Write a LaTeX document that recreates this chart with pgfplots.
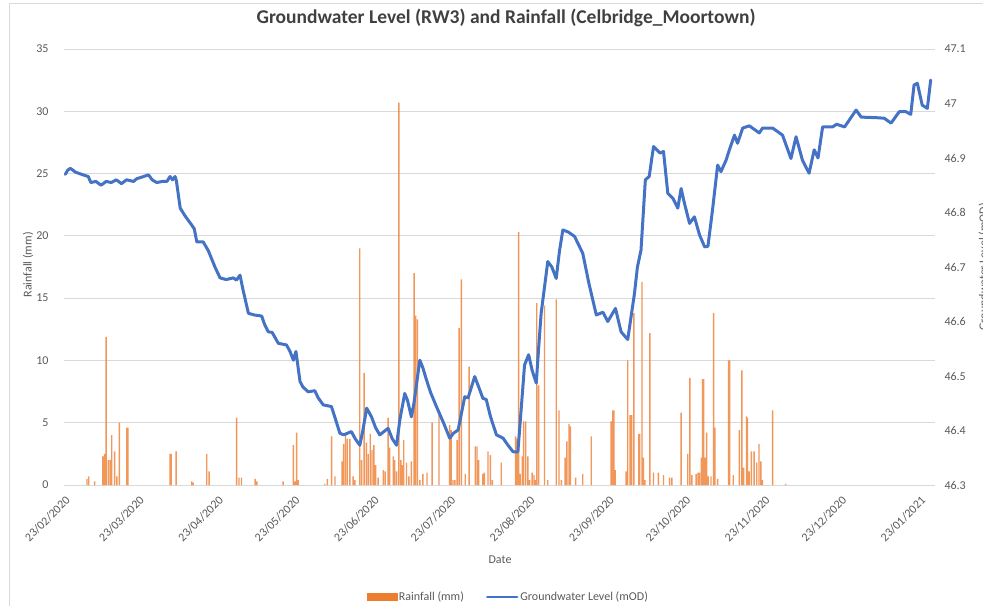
\documentclass[border=0pt]{standalone}
\usepackage{pgfplots}
\usepackage{pgfplotstable}
\pgfplotsset{compat=1.18}
\usepackage{fontspec}
\setmainfont{Carlito}
\definecolor{rainc}{HTML}{ED7D31}
\definecolor{gwc}{HTML}{4472C4}
\definecolor{gridc}{HTML}{D9D9D9}
\definecolor{txtc}{HTML}{595959}
\definecolor{titc}{HTML}{404040}

\pgfplotstableread{
day mm
8.5 0.5
9.2 0.7
11.5 0.3
14.7 2.3
15.4 2.5
16.0 11.9
16.9 2.0
17.6 2.0
18.2 4.0
19.3 2.7
20.2 0.7
21.2 5.0
24.1 4.6
24.5 4.6
41.0 2.5
41.5 2.5
43.4 2.7
49.5 0.3
50.1 0.2
55.4 2.5
56.3 1.1
67.1 5.4
68.0 0.6
69.0 0.6
74.3 0.5
75.0 0.3
85.3 0.3
89.3 3.2
89.9 0.3
90.6 4.2
91.2 0.4
101.6 0.1
102.6 0.5
104.3 3.9
105.6 0.7
108.4 1.9
109.0 3.3
109.7 4.1
110.4 3.7
111.4 3.7
112.7 0.7
113.4 0.4
115.3 19.0
116.0 2.0
117.0 9.0
117.9 3.4
118.6 2.5
119.4 4.1
120.1 2.8
120.8 3.2
121.5 1.6
122.5 0.6
124.5 1.2
125.2 1.1
126.4 5.4
127.0 3.0
128.4 2.3
129.0 2.0
129.7 1.1
130.6 30.7
131.4 2.0
131.9 1.6
132.5 3.6
133.6 1.8
134.5 0.7
135.5 1.9
136.6 17.0
137.2 13.6
137.9 13.3
138.8 0.4
140.0 0.9
141.6 1.0
143.6 5.0
146.3 5.6
150.5 4.8
151.1 4.4
151.8 0.4
152.5 0.4
153.4 3.6
154.2 12.6
155.1 16.5
156.6 0.9
158.1 9.5
160.5 3.1
161.2 3.1
161.8 2.0
163.5 0.9
164.1 1.0
165.5 2.7
166.4 2.4
167.2 0.4
170.7 1.8
176.3 3.9
176.8 3.7
177.5 20.3
178.1 0.9
178.9 2.3
179.4 5.1
180.2 5.1
181.1 2.3
181.8 0.4
182.8 1.0
183.5 0.8
184.1 0.4
184.6 14.6
185.3 8.0
187.6 14.4
188.9 0.4
192.2 14.9
193.3 6.0
194.2 0.4
195.7 2.2
196.4 3.5
197.2 4.9
197.8 4.7
199.8 0.6
202.6 0.9
205.9 3.9
213.7 5.1
214.4 6.0
214.8 6.0
215.3 1.2
219.6 1.1
220.2 10.0
221.1 5.6
221.7 5.6
222.6 13.8
224.5 4.1
224.9 4.1
225.8 16.3
226.3 2.2
226.9 0.4
228.9 12.2
230.3 1.0
232.2 1.0
234.2 0.8
236.6 0.6
237.5 0.6
241.1 5.8
243.7 2.5
244.5 8.6
245.3 0.8
247.0 0.9
247.7 1.0
248.3 1.0
249.0 2.2
249.5 8.5
249.9 8.5
250.4 2.2
251.1 4.2
251.7 0.7
252.8 0.7
253.8 13.8
254.3 4.6
255.4 0.5
259.7 10.0
260.1 10.0
261.5 0.8
263.9 4.4
264.9 9.2
265.6 1.4
266.7 5.5
267.1 5.4
267.7 1.1
268.6 2.7
269.7 2.7
270.7 1.8
271.6 3.3
272.3 1.9
272.9 0.4
276.9 6.0
282.0 0.1
}\raintable

\pgfplotstableread{
day gw
0 46.870
1 46.878
2 46.881
4 46.874
7 46.869
9 46.866
10 46.855
12 46.857
14 46.850
16 46.857
18 46.855
20 46.860
22 46.853
24 46.860
26.7 46.857
28 46.862
30 46.865
32.6 46.869
34 46.860
35.8 46.855
38 46.857
39.8 46.857
41 46.866
42 46.860
43 46.866
43.5 46.858
45 46.808
47 46.793
49.5 46.777
50.5 46.770
51.5 46.746
54 46.746
56 46.730
58.6 46.700
60.6 46.680
63 46.677
65.8 46.680
67 46.676
68.4 46.685
69.5 46.660
71.7 46.615
74 46.612
76.9 46.610
78 46.595
79.5 46.581
81 46.580
83.4 46.560
86.6 46.557
88 46.545
89.3 46.529
90.3 46.545
91.9 46.490
93 46.480
95.1 46.471
97.7 46.473
99 46.460
101 46.447
104.2 46.444
105.5 46.425
107.5 46.395
109 46.392
112 46.398
113.5 46.385
115.3 46.373
116.5 46.400
118 46.441
119.9 46.425
121.5 46.405
123.1 46.392
126.4 46.404
128 46.385
129.7 46.373
131 46.420
132.9 46.468
134 46.455
135.5 46.425
136.5 46.450
138.8 46.529
140 46.515
141.4 46.493
143 46.470
145.3 46.444
148 46.415
150.5 46.386
152 46.395
153.8 46.401
156.4 46.462
157.7 46.460
160.3 46.499
162 46.478
163.5 46.459
164.8 46.457
166.5 46.425
168.8 46.392
171.4 46.386
173 46.375
175.3 46.361
177.2 46.361
178.5 46.440
179.8 46.520
181.4 46.539
182.8 46.510
184.4 46.487
185.3 46.550
186.3 46.615
188.9 46.710
190.5 46.700
192.2 46.679
193.5 46.730
194.8 46.768
197 46.764
199.4 46.756
202.6 46.725
205 46.670
207.9 46.612
210.5 46.617
212.4 46.600
215.4 46.624
217.6 46.581
220.2 46.567
222.8 46.650
224 46.700
225.4 46.731
227.1 46.860
228.6 46.866
230.3 46.921
232.9 46.909
234.2 46.912
235.9 46.835
237.9 46.826
239.8 46.808
241.1 46.844
242.4 46.817
244.4 46.780
246.3 46.792
248.3 46.759
250.3 46.737
251.6 46.738
253.4 46.805
255.4 46.887
256.7 46.875
258.7 46.896
260 46.915
262 46.942
263.2 46.927
265.2 46.955
267.8 46.959
271.7 46.946
273 46.955
276.9 46.955
280.8 46.942
284.1 46.899
286.1 46.939
288.6 46.896
291.2 46.872
293.2 46.915
294.7 46.900
296.5 46.957
300.4 46.957
302 46.962
305.1 46.957
307 46.970
309.6 46.988
311.6 46.975
317.4 46.974
320.6 46.973
323.3 46.964
326.5 46.985
329.1 46.985
331 46.980
332.3 47.034
333.6 47.037
335.5 46.997
337.5 46.991
338.8 47.043
}\gwtable

\begin{document}
\begin{tikzpicture}
\useasboundingbox (-64bp,-123bp) rectangle (919bp,485bp);
\draw[gridc, line width=0.75bp] (-55bp,-121bp) -- (-55bp,482bp) -- (940bp,482bp);
\begin{axis}[
  at={(0bp,0bp)}, anchor=south west, scale only axis,
  width=871bp, height=436bp,
  xmin=-0.5, xmax=340.5,
  ymin=0, ymax=35,
  ytick={0,5,10,15,20,25,30,35},
  xtick={0,29,60,90,121,151,182,213,243,274,304,335},
  xticklabels={23/02/2020,23/03/2020,23/04/2020,23/05/2020,23/06/2020,23/07/2020,23/08/2020,23/09/2020,23/10/2020,23/11/2020,23/12/2020,23/01/2021},
  axis line style={draw=none},
  major tick length=0pt,
  ymajorgrids, grid style={gridc, line width=0.75bp},
  tick label style={font=\fontsize{12bp}{14bp}\selectfont, text=txtc},
  /pgf/number format/assume math mode=true,
  xticklabel style={xshift=5bp, yshift=-11bp, rotate=45, anchor=east},
  yticklabel style={xshift=-12bp},
  xlabel={Date}, ylabel={Rainfall (mm)},
  label style={font=\fontsize{12bp}{14bp}\selectfont, text=txtc},
  xlabel style={at={(axis description cs:0.5006,-0.172)}, anchor=center},
  ylabel style={at={(axis description cs:-0.0413,0.505)}, anchor=center},
  title={Groundwater Level (RW3) and Rainfall (Celbridge\_Moortown)},
  title style={at={(axis description cs:0.5075,1.071)}, anchor=center, yshift=-6pt, font=\bfseries\fontsize{19.5bp}{22bp}\selectfont, text=titc},
]
\addplot[ybar, bar width=0.55, fill=rainc, draw=none, fill opacity=0.8] table[x=day,y=mm]{\raintable};
\end{axis}
\begin{axis}[
  at={(0bp,0bp)}, anchor=south west, scale only axis,
  width=871bp, height=436bp,
  xmin=-0.5, xmax=340.5,
  ymin=46.3, ymax=47.1,
  axis x line=none, axis y line*=right,
  y axis line style={draw=none},
  major tick length=0pt,
  ytick={46.3,46.4,46.5,46.6,46.7,46.8,46.9,47,47.1},
  yticklabels={46.3,46.4,46.5,46.6,46.7,46.8,46.9,47,47.1},
  tick label style={font=\fontsize{12bp}{14bp}\selectfont, text=txtc},
  yticklabel style={xshift=6bp},
  ylabel={Groundwater Level (mOD)},
  ylabel style={at={(axis description cs:1.056,0.5)}, anchor=center, font=\fontsize{12bp}{14bp}\selectfont, text=txtc},
  legend style={at={(axis description cs:0.51,-0.257)}, anchor=center, draw=none, fill=none, legend columns=2, font=\fontsize{12bp}{14bp}\selectfont, text=txtc, /tikz/every even column/.append style={column sep=20bp}},
]
\addlegendimage{legend image code/.code={\fill[rainc] (0bp,-3.5bp) rectangle (30bp,3.5bp);}}
\addlegendentry{Rainfall (mm)}
\addplot[gwc, line width=3bp, line join=round, line cap=round, legend image code/.code={\draw[gwc, line width=2.4bp] (0bp,0bp) -- (30bp,0bp);}] table[x=day,y=gw]{\gwtable};
\addlegendentry{Groundwater Level (mOD)}
\end{axis}
\end{tikzpicture}
\end{document}
